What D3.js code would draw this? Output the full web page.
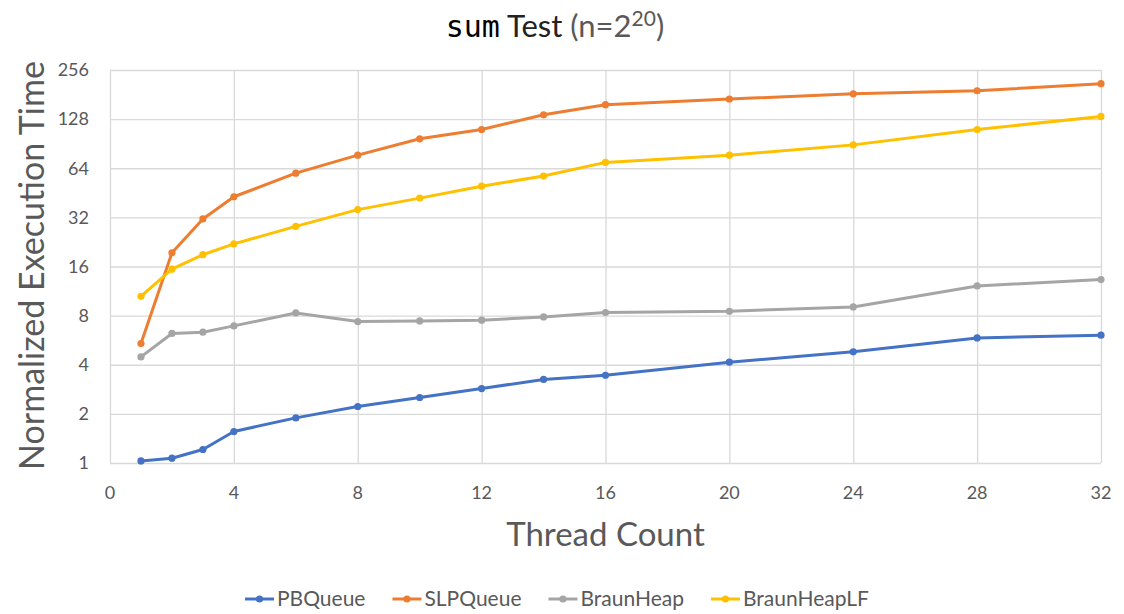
<!DOCTYPE html>
<html>
<head>
<meta charset="utf-8">
<script src="https://cdn.jsdelivr.net/npm/d3@7"></script>
<style>
  body { margin: 0; background: #fff; }
  text { font-family: Lato, "Open Sans", sans-serif; }
</style>
</head>
<body>
<svg id="chart" width="1124" height="614"></svg>
<script>
var threads = [1, 2, 3, 4, 6, 8, 10, 12, 14, 16, 20, 24, 28, 32]
var seriesNames = ['PBQueue', 'SLPQueue', 'BraunHeap', 'BraunHeapLF']
var pbQueue = [1.03, 1.07, 1.21, 1.56, 1.89, 2.22, 2.52, 2.86, 3.25, 3.45, 4.15, 4.8, 5.84, 6.07]
var slpQueue = [5.4, 19.4, 31.3, 42.8, 59.7, 77, 97, 110.6, 136, 157, 170, 183, 191, 211]
var braunHeap = [4.47, 6.22, 6.33, 6.92, 8.31, 7.36, 7.42, 7.5, 7.85, 8.36, 8.51, 9.04, 12.16, 13.3]
var braunHeapLF = [10.5, 15.4, 18.9, 22.0, 28.2, 35.7, 42.0, 49.7, 57.3, 69.5, 77, 89, 110.6, 133]
var yTicks = [1, 2, 4, 8, 16, 32, 64, 128, 256]
var xTicks = [0, 4, 8, 12, 16, 20, 24, 28, 32]

var colors = ['#4472C4', '#ED7D31', '#A5A5A5', '#FFC000']
var allSeries = [pbQueue, slpQueue, braunHeap, braunHeapLF]

var svg = d3.select('#chart')
// plot area edges (note: "top" is reserved by window, so use other names)
var plotLeft = 110, plotRight = 1101, plotTop = 70, plotBottom = 463

var x = d3.scaleLinear().domain([0, 32]).range([plotLeft, plotRight])
var y = d3.scaleLog().base(2).domain([1, 256]).range([plotBottom, plotTop])

// gridlines
svg.append('g')
    .attr('transform', 'translate(0,' + plotBottom + ')')
    .call(d3.axisBottom(x).tickValues(xTicks).tickSize(-(plotBottom - plotTop)).tickFormat(''))
    .call(g => g.select('.domain').remove())
    .selectAll('line').attr('stroke', '#d9d9d9').attr('stroke-width', 1.3)

svg.append('g')
    .attr('transform', 'translate(' + plotLeft + ',0)')
    .call(d3.axisLeft(y).tickValues(yTicks).tickSize(-(plotRight - plotLeft)).tickFormat(''))
    .call(g => g.select('.domain').remove())
    .selectAll('line').attr('stroke', '#d9d9d9').attr('stroke-width', 1.3)

// tick labels
svg.append('g').selectAll('text')
    .data(yTicks)
    .join('text')
    .attr('x', plotLeft - 21)
    .attr('y', d => y(d))
    .attr('dy', '0.35em')
    .attr('text-anchor', 'end')
    .attr('fill', '#595959')
    .style('font-size', '18px')
    .text(d => d)

svg.append('g').selectAll('text')
    .data(xTicks)
    .join('text')
    .attr('x', d => x(d))
    .attr('y', plotBottom + 36)
    .attr('text-anchor', 'middle')
    .attr('fill', '#595959')
    .style('font-size', '18px')
    .text(d => d)

// axis titles
svg.append('text')
    .attr('x', (plotLeft + plotRight) / 2)
    .attr('y', 546)
    .attr('text-anchor', 'middle')
    .attr('fill', '#595959')
    .style('font-size', '33px')
    .text('Thread Count')

svg.append('text')
    .attr('transform', 'translate(44,' + ((plotTop + plotBottom) / 2 - 1) + ') rotate(-90)')
    .attr('text-anchor', 'middle')
    .attr('fill', '#595959')
    .style('font-size', '34px')
    .text('Normalized Execution Time')

// title
var title = svg.append('text')
    .attr('x', 555)
    .attr('y', 37)
    .attr('text-anchor', 'middle')
    .style('font-size', '31px')
title.append('tspan').style('font-family', '"DejaVu Sans Mono", monospace').style('font-size', '30px').attr('fill', '#000').text('sum')
title.append('tspan').attr('fill', '#222').text(' Test ')
title.append('tspan').attr('fill', '#595959').text('(n=2')
title.append('tspan').attr('fill', '#595959').attr('dy', -11).style('font-size', '21px').text('20')
title.append('tspan').attr('fill', '#595959').attr('dy', 11).text(')')

// lines
var line = d3.line()
    .x((d, i) => x(threads[i]))
    .y(d => y(d))

allSeries.forEach((values, k) => {
    svg.append('path')
        .datum(values)
        .attr('d', line)
        .attr('fill', 'none')
        .attr('stroke', colors[k])
        .attr('stroke-width', 3)
        .attr('stroke-linejoin', 'round')

    svg.append('g').selectAll('circle')
        .data(values)
        .join('circle')
        .attr('cx', (d, i) => x(threads[i]))
        .attr('cy', d => y(d))
        .attr('r', 3.6)
        .attr('fill', colors[k])
})

// legend
var legend = svg.append('g')
var lx = 245
seriesNames.forEach((name, k) => {
    var item = legend.append('g').attr('transform', 'translate(' + lx + ',599)')
    item.append('line')
        .attr('x1', 0).attr('x2', 29)
        .attr('stroke', colors[k]).attr('stroke-width', 3)
    item.append('circle').attr('cx', 14.5).attr('r', 3.6).attr('fill', colors[k])
    var t = item.append('text')
        .attr('x', 32)
        .attr('dy', '0.35em')
        .attr('fill', '#595959')
        .style('font-size', '21px')
        .text(name)
    lx += 32 + t.node().getComputedTextLength() + 27
})
</script>
</body>
</html>
